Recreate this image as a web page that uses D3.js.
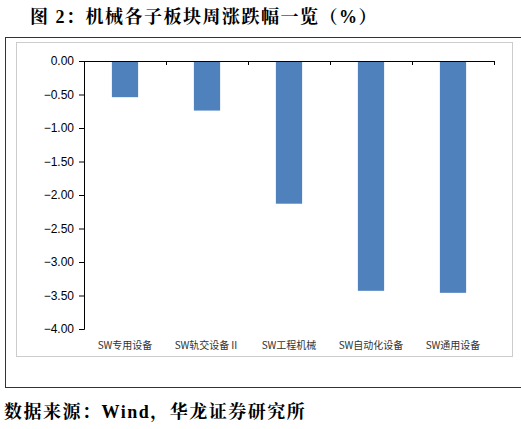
<!DOCTYPE html><html><head><meta charset="utf-8"><script src="https://cdn.jsdelivr.net/npm/d3@7"></script>
<style>body{margin:0;background:#fff}</style></head><body><svg id="c" width="521" height="429"></svg><script>
const categories=["SW专用设备","SW轨交设备Ⅱ","SW工程机械","SW自动化设备","SW通用设备"];
const values=[-0.54,-0.74,-2.13,-3.43,-3.46];
const ticks=[0,-0.5,-1,-1.5,-2,-2.5,-3,-3.5,-4];
const svg=d3.select("#c");
const serif="'Liberation Serif','Noto Serif CJK SC','Noto Sans CJK SC',serif";
svg.append("text").attr("x",30).attr("y",23).attr("font-family",serif).attr("font-weight","bold").attr("font-size",18).attr("letter-spacing",1.5).text("图 2：机械各子板块周涨跌幅一览（%）");
svg.append("rect").attr("x",5.5).attr("y",37.5).attr("width",520).attr("height",350).attr("fill","none").attr("stroke","#333");
svg.append("rect").attr("x",16.5).attr("y",42.5).attr("width",496).attr("height",314).attr("fill","none").attr("stroke","#ccc");
const x=d3.scaleBand().domain(categories).range([84,494]).paddingInner(0.68).paddingOuter(0.34);
const y=d3.scaleLinear().domain([-4,0]).range([329,61]);
svg.selectAll(".b").data(values).join("rect").attr("x",(d,i)=>x(categories[i])).attr("width",x.bandwidth()).attr("y",y(0)).attr("height",d=>y(d)-y(0)).attr("fill","#4f81bd");
const ya=svg.append("g").attr("transform","translate(84,0)").call(d3.axisLeft(y).tickValues(ticks).tickSize(5).tickFormat(d=>d3.format(".2f")(d).replace("-","−")));
ya.selectAll("text").attr("font-family","'Liberation Sans',Arial,sans-serif").attr("font-size",12).attr("fill","#000").attr("dx",-2);
ya.select(".domain").attr("stroke","#000");ya.selectAll("line").attr("stroke","#000");
const xs=d3.scaleLinear().domain([0,5]).range([84,494]);
const xa=svg.append("g").attr("transform","translate(0,61)").call(d3.axisTop(xs).ticks(5).tickSize(-4).tickFormat(""));
xa.select(".domain").attr("stroke","#000");xa.selectAll("line").attr("stroke","#000");
svg.selectAll(".cl").data(categories).join("text").attr("x",d=>x(d)+x.bandwidth()/2).attr("y",349).attr("text-anchor","middle").attr("font-family","'Noto Sans CJK SC',sans-serif").attr("font-size",10).attr("fill","#333").text(d=>d);
svg.append("text").attr("x",4).attr("y",418).attr("font-family",serif).attr("font-weight","bold").attr("font-size",18).attr("letter-spacing",1.5).text("数据来源：Wind，华龙证券研究所");
</script></body></html>
